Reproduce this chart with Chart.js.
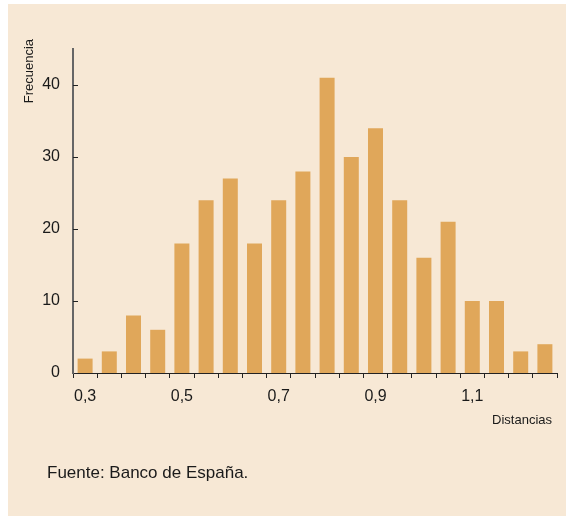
<!DOCTYPE html>
<html>
<head>
<meta charset="utf-8">
<script src="https://cdn.jsdelivr.net/npm/chart.js@4"></script>
<style>
  body { margin: 0; background: #fff; }
  #panel { position: absolute; left: 8px; top: 4px; width: 558px; height: 512px; background: #f7e8d5; }
  #wrap { position: absolute; left: 0; top: 0; width: 567px; height: 516px; }
  #source { position: absolute; left: 47px; top: 464px; font: 17px "Liberation Sans", Arial, sans-serif; line-height: 17px; color: #1a1a1a; }
</style>
</head>
<body>
<div id="panel"></div>
<div id="wrap"><canvas id="myChart" width="567" height="516"></canvas></div>
<div id="source">Fuente: Banco de España.</div>
<script>
  // Histograma de distancias (Banco de España)
  const categories = ["0,30", "0,35", "0,40", "0,45", "0,50", "0,55", "0,60", "0,65", "0,70", "0,75",
                      "0,80", "0,85", "0,90", "0,95", "1,00", "1,05", "1,10", "1,15", "1,20", "1,25"];
  const frecuencias = [2, 3, 8, 6, 18, 24, 27, 18, 24, 28, 41, 30, 34, 24, 16, 21, 10, 10, 3, 4];
  const xTickLabels = ["0,3", "0,5", "0,7", "0,9", "1,1"];
  const yTicks = [0, 10, 20, 30, 40];

  const FONT = "'Liberation Sans', Arial, sans-serif";
  const INK = "#1a1a1a";

  const extras = {
    id: "extras",
    afterDraw(chart) {
      const { ctx, chartArea, scales } = chart;
      ctx.save();
      // inward ticks on the y axis
      ctx.strokeStyle = "#222";
      ctx.lineWidth = 1;
      yTicks.forEach((v) => {
        if (v === 0) return;
        const y = Math.round(scales.y.getPixelForValue(v)) + 0.5;
        ctx.beginPath();
        ctx.moveTo(chartArea.left, y);
        ctx.lineTo(chartArea.left + 5, y);
        ctx.stroke();
      });
      ctx.fillStyle = INK;
      ctx.font = "13px " + FONT;
      // y title
      ctx.save();
      ctx.translate(29.5, chartArea.top - 10);
      ctx.rotate(-Math.PI / 2);
      ctx.textAlign = "right";
      ctx.textBaseline = "middle";
      ctx.fillText("Frecuencia", 0, 0);
      ctx.restore();
      // x title
      ctx.textAlign = "right";
      ctx.textBaseline = "middle";
      ctx.fillText("Distancias", chartArea.right - 5, chartArea.bottom + 47);
      ctx.restore();
    },
  };

  const ctx = document.getElementById("myChart").getContext("2d");
  const myChart = new Chart(ctx, {
    type: "bar",
    data: {
      labels: categories,
      datasets: [
        {
          label: "Frecuencia",
          data: frecuencias,
          backgroundColor: "#e0a75a",
          borderWidth: 0,
          categoryPercentage: 1,
          barPercentage: 0.62,
        },
      ],
    },
    options: {
      responsive: false,
      animation: false,
      layout: { padding: { top: 49, right: 10, left: 0, bottom: 0 } },
      plugins: { legend: { display: false }, tooltip: { enabled: false } },
      scales: {
        x: {
          offset: true,
          grid: { offset: true, drawOnChartArea: false, drawTicks: true, tickLength: 5, color: "#222" },
          border: { color: "#222", width: 1 },
          ticks: {
            autoSkip: false,
            maxRotation: 0,
            padding: 9,
            color: INK,
            font: { family: FONT, size: 16 },
            callback: (v, i) => (i % 4 === 0 ? xTickLabels[i / 4] : ""),
          },
          afterFit: (s) => { s.height = 143; },
        },
        y: {
          min: 0,
          max: 45,
          grid: { display: false, drawTicks: false },
          border: { color: "#666", width: 2 },
          ticks: {
            stepSize: 10,
            padding: 13,
            color: INK,
            font: { family: FONT, size: 16 },
          },
          afterBuildTicks: (s) => { s.ticks = yTicks.map((v) => ({ value: v })); },
          afterFit: (s) => { s.width = 73; },
        },
      },
    },
    plugins: [extras],
  });
</script>
</body>
</html>
